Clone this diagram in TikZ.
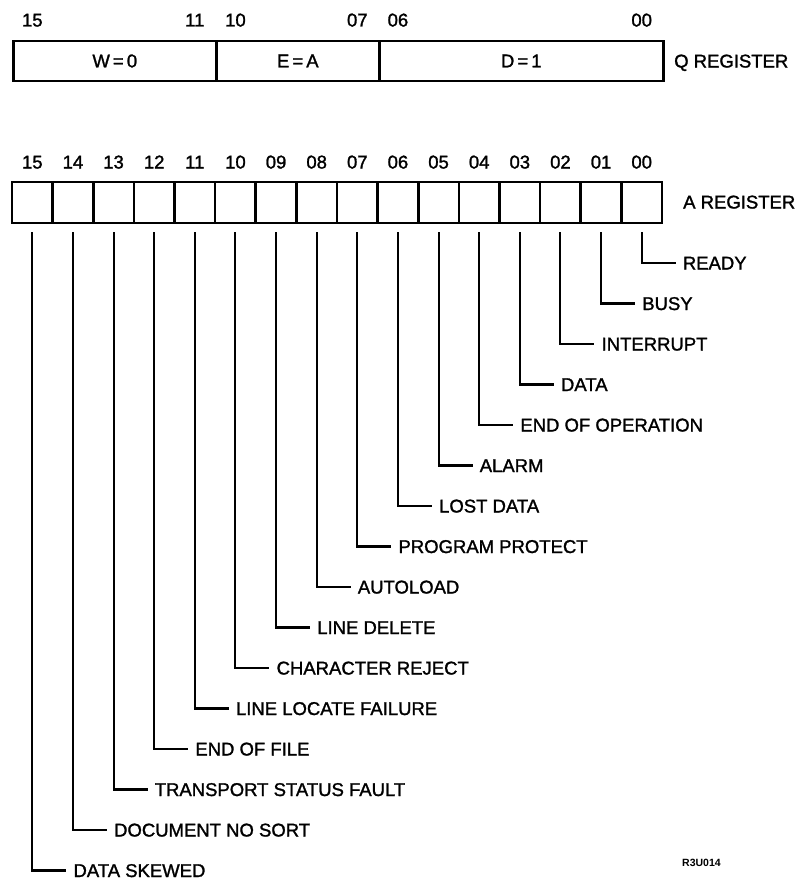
\documentclass[tikz,border=0pt]{standalone}
\usepackage{fontspec}
\setmainfont{Liberation Sans}[FakeBold=1.4]
\newfontfamily\smallbold{Liberation Sans Bold}
\begin{document}
\begin{tikzpicture}[x=1pt,y=-1pt,
  font=\fontsize{18.5}{20}\selectfont,
  field/.style={draw, line width=2.6pt, minimum height=40pt, inner sep=0pt, anchor=west},
  cell/.style={draw, line width=2.6pt, minimum width=40.625pt, minimum height=41pt, inner sep=0pt},
  num/.style={inner sep=0pt, text height=13pt, text depth=0pt},
  lab/.style={anchor=west, inner xsep=7pt, inner ysep=0pt, text height=13pt, text depth=0pt},
  regname/.style={anchor=west, inner sep=0pt, text height=13pt, text depth=0pt},
  conn/.style={line width=2.1pt}]
\useasboundingbox (0,0) rectangle (796,883);
% Q register
\node[field, minimum width=203pt] (qw) at (12,61) {W\,=\,0};
\node[field, minimum width=163pt] (qe) at (215,61) {E\,=\,A};
\node[field, minimum width=284pt] (qd) at (378,61) {D\,=\,1};
\node[regname] (qname) at (674,61) {Q REGISTER};
\foreach \b/\t in {15/15, 11/11, 10/10, 7/07, 6/06, 0/00}{
  \node[num] (qn\b) at ({12+40.625*(15-\b)+20.3125},20) {\t};
}
% A register
\node[regname] (aname) at (683,202) {A REGISTER};
\foreach \b/\t in {0/READY, 1/BUSY, 2/INTERRUPT, 3/DATA, 4/END OF OPERATION,
  5/ALARM, 6/LOST DATA, 7/PROGRAM PROTECT, 8/AUTOLOAD, 9/LINE DELETE,
  10/CHARACTER REJECT, 11/LINE LOCATE FAILURE, 12/END OF FILE,
  13/TRANSPORT STATUS FAULT, 14/DOCUMENT NO SORT, 15/DATA SKEWED}{
  \pgfmathsetmacro{\xc}{12+40.625*(15-\b)+20.3125}
  \node[cell] (c\b) at (\xc,202.5) {};
  \node[num] (n\b) at (\xc,162) {\ifnum\b<10 0\fi\b};
  \node[lab] (l\b) at (\xc+34,{263+40.5*\b}) {\t};
  \draw[conn] ([yshift=-8pt]c\b.south) |- (l\b.west);
}
\node[anchor=west, inner sep=0pt, font=\smallbold\fontsize{10.5}{12}\selectfont] (code) at (682,863) {R3U014};
\end{tikzpicture}
\end{document}
